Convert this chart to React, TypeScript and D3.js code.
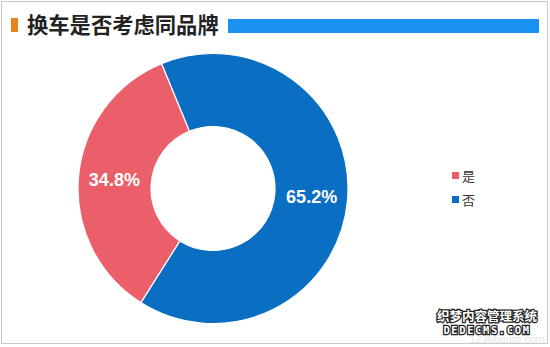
import React, { useEffect, useRef } from "react";
import * as d3 from "d3";

const title = "换车是否考虑同品牌";
const categories = ["否", "是"];
const values = [65.2, 34.8];
const colors = ["#0A6EC2", "#EA5F69"];
const legendOrder = ["是", "否"];

export default function App() {
  const ref = useRef<SVGSVGElement | null>(null);
  useEffect(() => {
    document.body.style.margin = "0";
    const svg = d3.select(ref.current);
    svg.selectAll("*").remove();
    const W = 550, H = 347;
    svg.append("rect").attr("x", 0).attr("y", 0).attr("width", W).attr("height", H).attr("fill", "#fff");
    svg.append("rect").attr("x", 1.5).attr("y", 1.5).attr("width", 546).attr("height", 342)
      .attr("fill", "none").attr("stroke", "#c9c9c9").attr("stroke-width", 1);

    // title
    svg.append("rect").attr("x", 11).attr("y", 18).attr("width", 7).attr("height", 14).attr("fill", "#E8821E");
    svg.append("text").attr("x", 27).attr("y", 33).text(title)
      .attr("font-family", "'Noto Sans CJK SC', sans-serif").attr("font-weight", "bold")
      .attr("font-size", 21.3).attr("fill", "#222");
    svg.append("rect").attr("x", 228).attr("y", 19).attr("width", 311).attr("height", 14).attr("fill", "#1891F0");

    // pie
    const cx = 213, cy = 188.5, rOuter = 135, rInner = 62;
    const start = (-22.4 * Math.PI) / 180;
    const pie = d3.pie<number>().sort(null).startAngle(start).endAngle(start + 2 * Math.PI);
    const arcs = pie(values);
    const arc = d3.arc<d3.PieArcDatum<number>>().innerRadius(rInner).outerRadius(rOuter);
    const g = svg.append("g").attr("transform", `translate(${cx},${cy})`);
    g.selectAll("path").data(arcs).enter().append("path")
      .attr("d", arc as any)
      .attr("fill", (_d, i) => colors[i])
      .attr("stroke", "#fff").attr("stroke-width", 1.2);
    const labelArc = d3.arc<d3.PieArcDatum<number>>().innerRadius(99).outerRadius(99);
    g.selectAll("text.lbl").data(arcs).enter().append("text")
      .attr("class", "lbl")
      .attr("transform", (d) => {
        const [x, y] = labelArc.centroid(d);
        return `translate(${x},${y})`;
      })
      .attr("text-anchor", "middle").attr("dy", "0.35em")
      .attr("font-family", "'Liberation Sans', Arial, sans-serif").attr("font-weight", "bold")
      .attr("font-size", 18).attr("fill", "#fff")
      .text((d) => d.data.toFixed(1) + "%");

    // legend
    const lg = svg.append("g");
    legendOrder.forEach((name, i) => {
      const idx = categories.indexOf(name);
      const y = 176 + i * 24;
      lg.append("rect").attr("x", 452).attr("y", y - 4).attr("width", 7).attr("height", 7).attr("fill", colors[idx]);
      lg.append("text").attr("x", 462).attr("y", y).attr("dy", "0.35em").text(name)
        .attr("font-family", "'Noto Sans CJK SC', sans-serif").attr("font-size", 13).attr("fill", "#333");
    });

    // watermark
    svg.append("text").attr("x", 545).attr("y", 343).attr("text-anchor", "end").text("12365auto.com")
      .attr("font-family", "'Liberation Sans', Arial, sans-serif").attr("font-size", 11).attr("fill", "#e4e4e4");
    svg.append("text").attr("x", 487).attr("y", 321).attr("text-anchor", "middle").text("织梦内容管理系统")
      .attr("font-family", "'Noto Sans CJK SC', sans-serif").attr("font-weight", "bold").attr("font-size", 12.5)
      .attr("fill", "#fff").attr("stroke", "#222").attr("stroke-width", 2.5).attr("paint-order", "stroke");
    svg.append("text").attr("x", 487).attr("y", 334).attr("text-anchor", "middle").text("DEDECMS.COM")
      .attr("font-family", "'DejaVu Sans Mono', monospace").attr("font-weight", "bold").attr("font-size", 10.5)
      .attr("letter-spacing", 1.6)
      .attr("fill", "#fff").attr("stroke", "#222").attr("stroke-width", 2.5).attr("paint-order", "stroke");
  }, []);
  return <svg ref={ref} width={550} height={347} style={{ display: "block" }} />;
}
